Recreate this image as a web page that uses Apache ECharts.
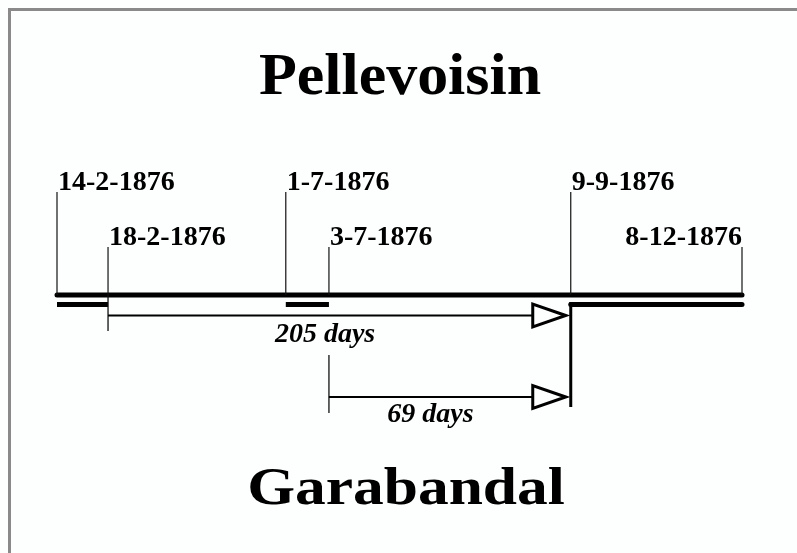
<!DOCTYPE html>
<html><head><meta charset="utf-8">
<script src="https://cdn.jsdelivr.net/npm/echarts@6/dist/echarts.min.js"></script>
<style>html,body{margin:0;padding:0;background:#fdfefe}#c{width:797px;height:553px}</style>
</head><body><div id="c"></div>
<script>
// ---- data ----
const titles = ['Pellevoisin', 'Garabandal'];
const eventDates = ['14-2-1876', '18-2-1876', '1-7-1876', '3-7-1876', '9-9-1876', '8-12-1876'];
// schematic position of each date along the timeline (0 = first date, 100 = last date)
const eventPos = [0, 7.45, 33.4, 39.7, 75.0, 100];
const eventRow = [0, 1, 0, 1, 0, 1];
const periods = [[0, 1], [2, 3], [4, 5]];   // index pairs of event dates
const intervalFrom = [1, 3];
const intervalTo = [4, 4];
const intervalLabels = ['205 days', '69 days'];

// ---- layout ----
const FONT = '"Liberation Serif","Times New Roman",serif';
const L = {
  mainY: 295, lowY: 304.5,
  rowTop: [192, 247], labelBase: [191, 246],
  arrowY: [315.5, 397],
  tickSpan: [[295, 331], [355, 413]],
  labelFrac: [0.469, 0.42], labelBase2: [343, 423.5],
  junctionBottom: 407
};
const mid = (base, fs) => base - 0.3 * fs;

const chart = echarts.init(document.getElementById('c'), null, {renderer: 'canvas'});
const X = (api, v) => api.coord([v, 0])[0];

const option = {
  backgroundColor: '#fdfefe',
  animation: false,
  grid: {left: 57, right: 55, top: 0, bottom: 0},
  xAxis: {type: 'value', min: 0, max: 100, show: false},
  yAxis: {type: 'value', min: 0, max: 1, show: false},
  graphic: [
    {type: 'polyline', shape: {points: [[9.5, 553], [9.5, 9.5], [797, 9.5]]}, style: {stroke: '#8a8a8a', lineWidth: 3, fill: null}},
    {type: 'text', x: 400, y: mid(96.7, 59), scaleX: 1.05, style: {text: titles[0], x: 0, y: 0, font: 'bold 59px ' + FONT, fill: '#000', align: 'center', verticalAlign: 'middle'}},
    {type: 'text', x: 406, y: mid(506.7, 53), scaleX: 1.16, style: {text: titles[1], x: 0, y: 0, font: 'bold 53px ' + FONT, fill: '#000', align: 'center', verticalAlign: 'middle'}}
  ],
  series: [
    { // main timeline
      type: 'custom', coordinateSystem: 'cartesian2d',
      data: [[eventPos[0], eventPos[eventPos.length - 1]]],
      renderItem: (p, api) => ({
        type: 'line', shape: {x1: X(api, api.value(0)), y1: L.mainY, x2: X(api, api.value(1)), y2: L.mainY},
        style: {stroke: '#000', lineWidth: 5, lineCap: 'round'}
      })
    },
    { // periods (lower thick segments)
      type: 'custom', coordinateSystem: 'cartesian2d',
      data: periods.map(([a, b]) => [eventPos[a], eventPos[b]]),
      renderItem: (p, api) => ({
        type: 'line', shape: {x1: X(api, api.value(0)), y1: L.lowY, x2: X(api, api.value(1)), y2: L.lowY},
        style: {stroke: '#000', lineWidth: 5, lineCap: p.dataIndex === periods.length - 1 ? 'round' : 'butt'}
      })
    },
    { // event ticks and labels
      type: 'custom', coordinateSystem: 'cartesian2d',
      data: eventPos.map((v, i) => [v, i]),
      renderItem: (p, api) => {
        const i = api.value(1), x = X(api, api.value(0)), row = eventRow[i];
        const last = i === eventPos.length - 1;
        return {type: 'group', children: [
          {type: 'line', shape: {x1: x, y1: L.rowTop[row], x2: x, y2: L.mainY}, style: {stroke: '#111', lineWidth: 1.2}},
          {type: 'text', style: {text: eventDates[i], x: last ? x : x + 1, y: mid(L.labelBase[row], 28),
            align: last ? 'right' : 'left', verticalAlign: 'middle', font: 'bold 28px ' + FONT, fill: '#000'}}
        ]};
      }
    },
    { // interval arrows
      type: 'custom', coordinateSystem: 'cartesian2d',
      data: intervalFrom.map((f, k) => [eventPos[f], eventPos[intervalTo[k]], k]),
      renderItem: (p, api) => {
        const k = api.value(2), x1 = X(api, api.value(0)), x2 = X(api, api.value(1)), y = L.arrowY[k];
        const ax = x2 - 5, bx = x2 - 38;
        return {type: 'group', children: [
          {type: 'line', shape: {x1: x1, y1: L.tickSpan[k][0], x2: x1, y2: L.tickSpan[k][1]}, style: {stroke: '#111', lineWidth: 1.3}},
          {type: 'line', shape: {x1: x1, y1: y, x2: bx, y2: y}, style: {stroke: '#000', lineWidth: 2}},
          {type: 'polygon', shape: {points: [[ax, y], [bx, y - 11.5], [bx, y + 11.5]]}, style: {fill: '#fdfefe', stroke: '#000', lineWidth: 3}},
          {type: 'text', style: {text: intervalLabels[k], x: x1 + L.labelFrac[k] * (x2 - x1), y: mid(L.labelBase2[k], 28),
            align: 'center', verticalAlign: 'middle', font: 'italic bold 28px ' + FONT, fill: '#000'}}
        ]};
      }
    },
    { // junction at the common end date
      type: 'custom', coordinateSystem: 'cartesian2d',
      data: [[eventPos[intervalTo[0]]]],
      renderItem: (p, api) => {
        const x = X(api, api.value(0));
        return {type: 'line', shape: {x1: x, y1: L.lowY - 2.5, x2: x, y2: L.junctionBottom}, style: {stroke: '#000', lineWidth: 3}};
      }
    }
  ]
};
chart.setOption(option);
</script>
</body></html>
